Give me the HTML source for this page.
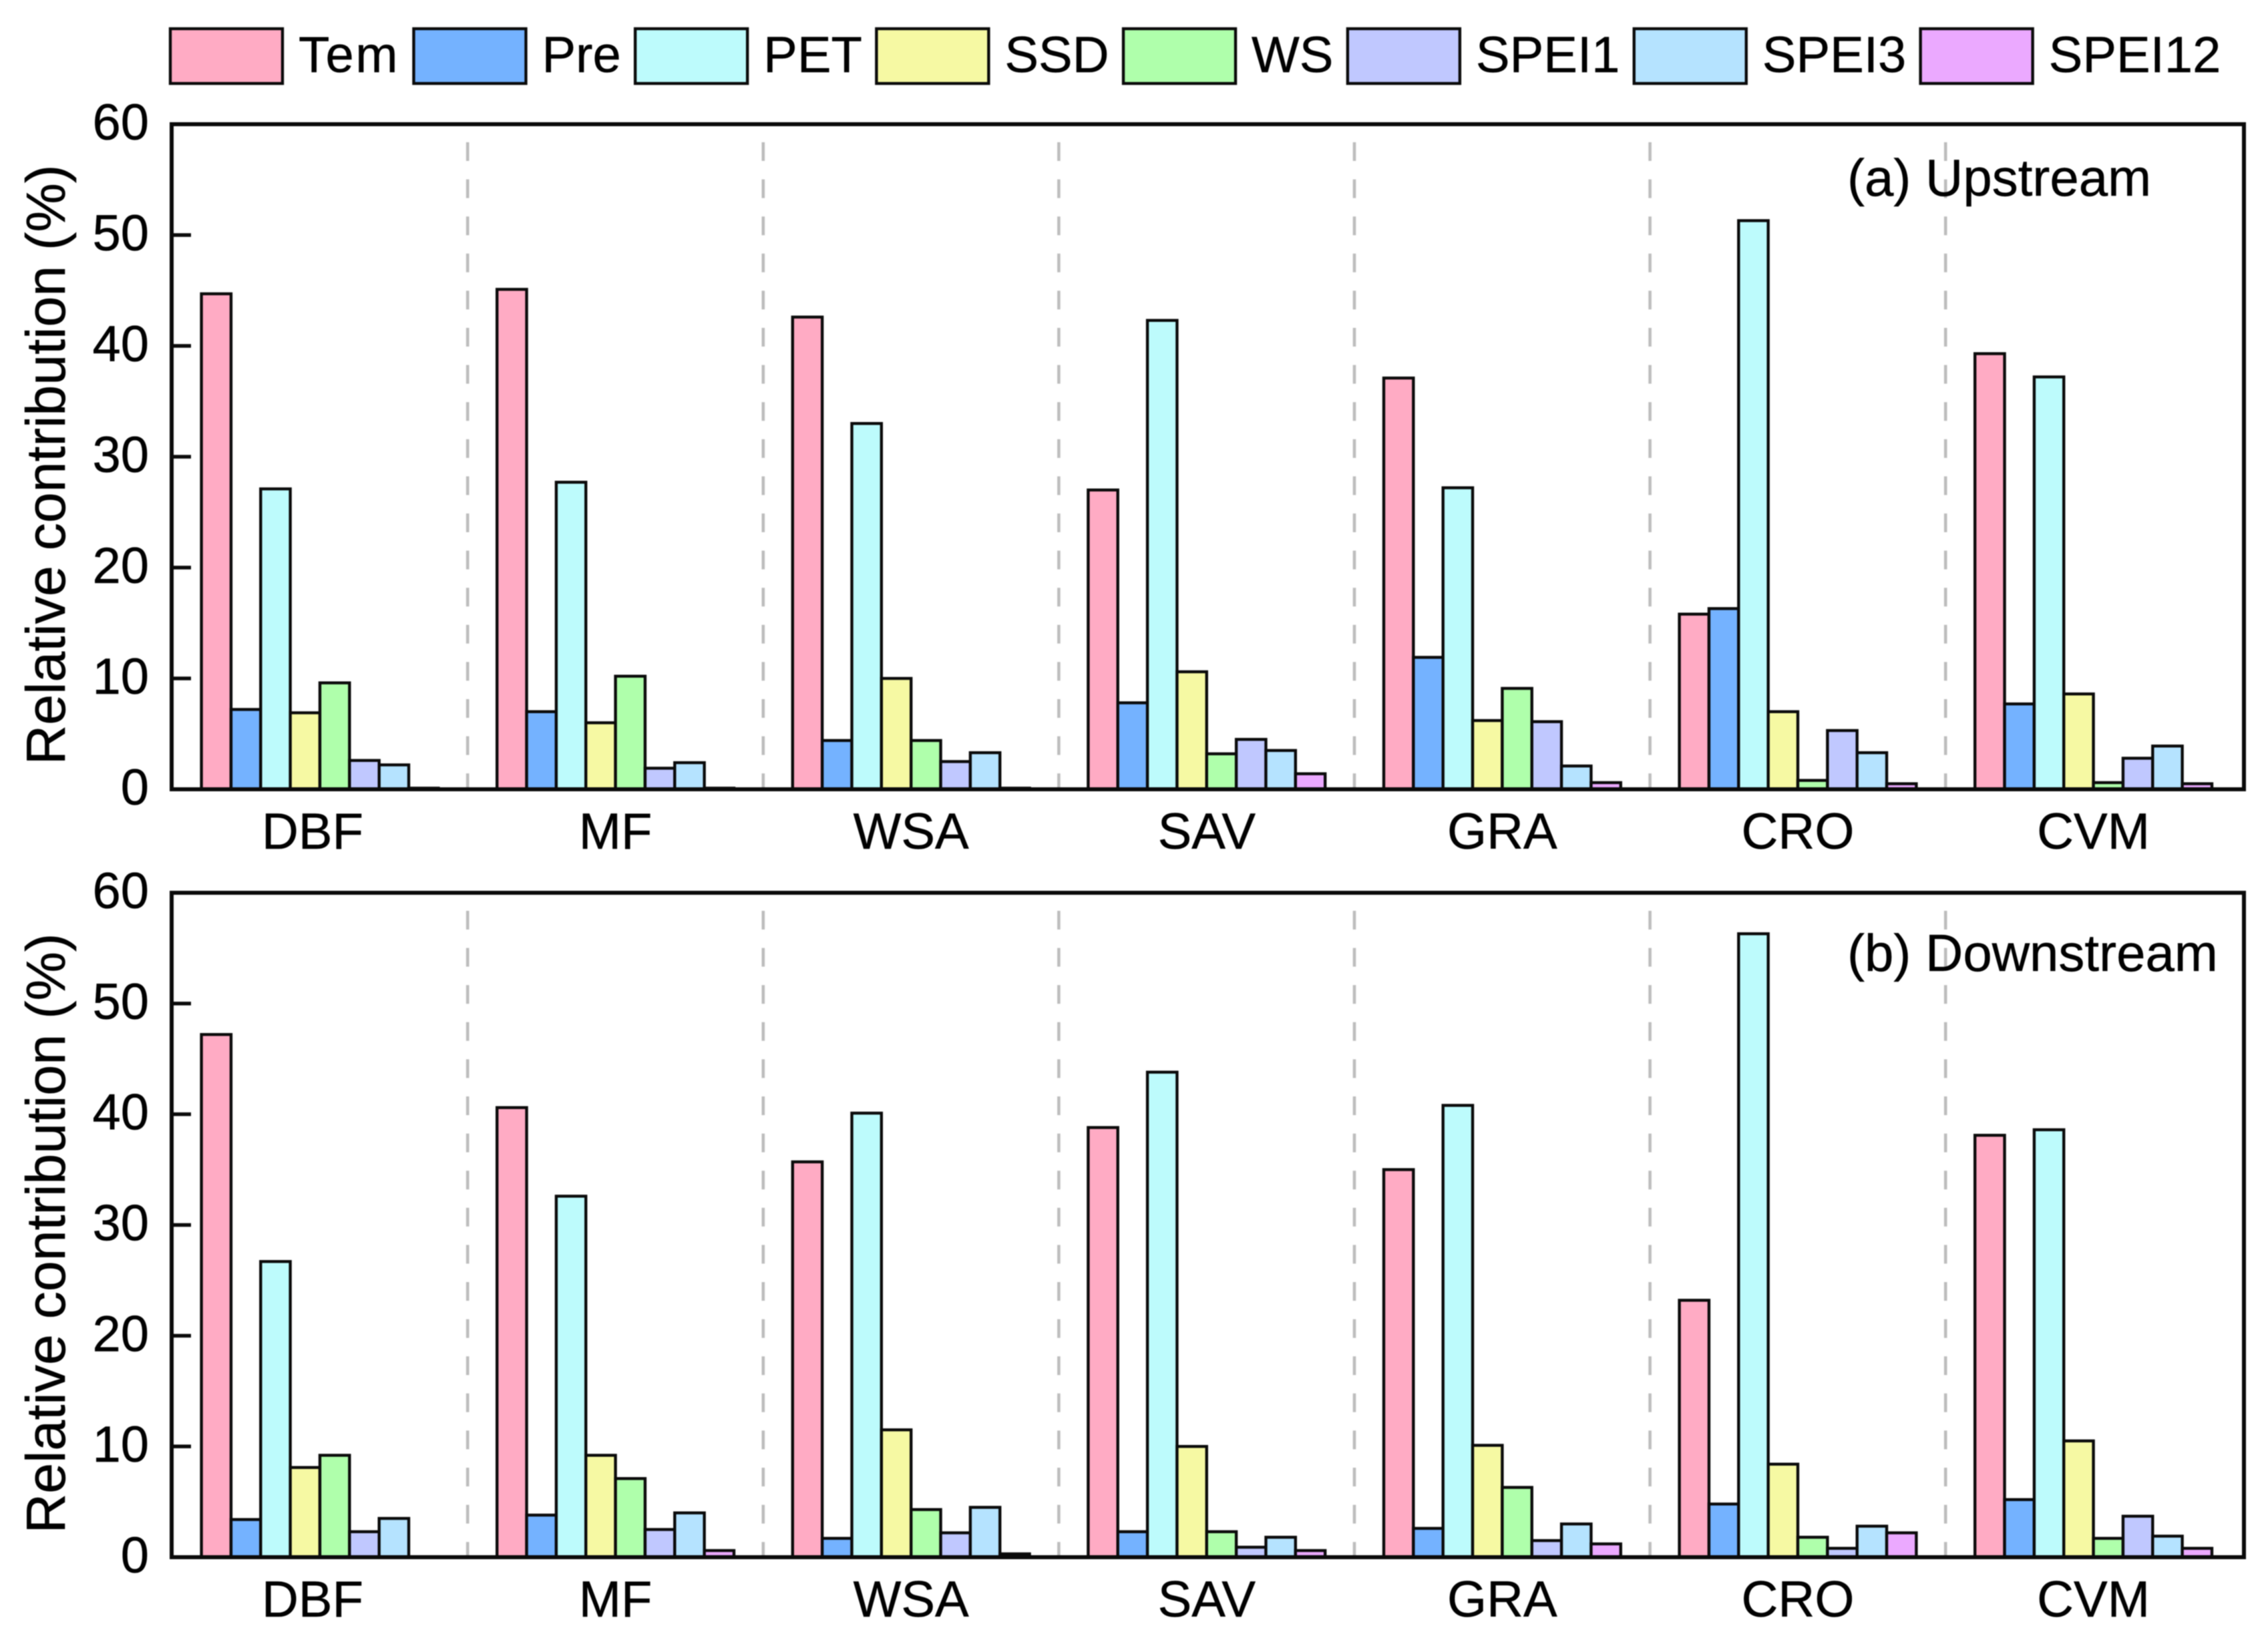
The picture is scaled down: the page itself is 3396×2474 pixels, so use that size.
<!DOCTYPE html>
<html lang="en">
<head>
<meta charset="utf-8">
<title>Relative contribution by vegetation type</title>
<style>
  html, body { margin: 0; padding: 0; background: #fff; width: 3396px; height: 2474px; overflow: hidden; }
  svg { display: block; filter: blur(0.8px); }
  text { font-family: "Liberation Sans", Arial, sans-serif; fill: #000; stroke: #000; stroke-width: 0.5px; }
</style>
</head>
<body>
<svg id="chart" xmlns="http://www.w3.org/2000/svg" width="3396" height="2474" viewBox="0 0 3396 2474"></svg>
<script>
const categories = ['DBF', 'MF', 'WSA', 'SAV', 'GRA', 'CRO', 'CVM'];
const seriesNames = ['Tem', 'Pre', 'PET', 'SSD', 'WS', 'SPEI1', 'SPEI3', 'SPEI12'];
const seriesColors = ['#FFABC4', '#74B2FF', '#BDFBFC', '#F6F9A3', '#AFFFAB', '#C0C8FF', '#B5E3FF', '#EBA9FF'];
const yTicks = [0, 10, 20, 30, 40, 50, 60];

// rows follow categories, columns follow seriesNames
const upstreamDBF = [44.7, 7.2, 27.1, 6.9, 9.6, 2.6, 2.2, 0.1];
const upstreamMF  = [45.1, 7.0, 27.7, 6.0, 10.2, 1.9, 2.4, 0.1];
const upstreamWSA = [42.6, 4.4, 33.0, 10.0, 4.4, 2.5, 3.3, 0.1];
const upstreamSAV = [27.0, 7.8, 42.3, 10.6, 3.2, 4.5, 3.5, 1.4];
const upstreamGRA = [37.1, 11.9, 27.2, 6.2, 9.1, 6.1, 2.1, 0.6];
const upstreamCRO = [15.8, 16.3, 51.3, 7.0, 0.8, 5.3, 3.3, 0.5];
const upstreamCVM = [39.3, 7.7, 37.2, 8.6, 0.6, 2.8, 3.9, 0.5];

const downstreamDBF = [47.2, 3.4, 26.7, 8.1, 9.2, 2.3, 3.5, 0.05];
const downstreamMF  = [40.6, 3.8, 32.6, 9.2, 7.1, 2.5, 4.0, 0.6];
const downstreamWSA = [35.7, 1.7, 40.1, 11.5, 4.3, 2.2, 4.5, 0.3];
const downstreamSAV = [38.8, 2.3, 43.8, 10.0, 2.3, 0.9, 1.8, 0.6];
const downstreamGRA = [35.0, 2.6, 40.8, 10.1, 6.3, 1.5, 3.0, 1.2];
const downstreamCRO = [23.2, 4.8, 56.3, 8.4, 1.8, 0.8, 2.8, 2.2];
const downstreamCVM = [38.1, 5.2, 38.6, 10.5, 1.7, 3.7, 1.9, 0.8];

const upstreamValues = [upstreamDBF, upstreamMF, upstreamWSA, upstreamSAV, upstreamGRA, upstreamCRO, upstreamCVM];
const downstreamValues = [downstreamDBF, downstreamMF, downstreamWSA, downstreamSAV, downstreamGRA, downstreamCRO, downstreamCVM];

const svg = document.getElementById('chart');
const NS = 'http://www.w3.org/2000/svg';

const LEFT = 257, RIGHT = 3360, YMAX = 60;
const FIRST_BAR = 301.6, BAR_W = 44.35, GROUP_STEP = 442.6;

function make(tag, attrs, parent, content) {
  const el = document.createElementNS(NS, tag);
  for (const k in attrs) el.setAttribute(k, attrs[k]);
  if (content !== undefined) el.textContent = content;
  (parent || svg).appendChild(el);
  return el;
}

function slug(s) {
  return s.toLowerCase();
}

function drawPanel(key, top, bottom, values, title, titleX, titleY, yTitleCenter) {
  const y = v => bottom - (v / YMAX) * (bottom - top);
  const x = (g, s) => FIRST_BAR + g * GROUP_STEP + s * BAR_W;

  const panel = make('g', {});
  
  

  // group separators
  for (let g = 0; g < categories.length - 1; g++) {
    const sepX = FIRST_BAR + (g + 1) * GROUP_STEP - 44;
    const sep = make('line', { x1: sepX, x2: sepX, y1: top + 27, y2: bottom - 2, stroke: '#bdbdbd', 'stroke-width': 4.6, 'stroke-dasharray': '28 27.6' }, panel);
    
    
  }

  // bars
  values.forEach((row, g) => {
    row.forEach((v, s) => {
      const bar = make('rect', {
        x: x(g, s),
        y: y(v),
        width: BAR_W,
        height: bottom - y(v),
        fill: seriesColors[s],
        stroke: '#0a0a0a',
        'stroke-width': 4.4
      }, panel);
      
      
    });
  });

  // frame
  const frame = make('rect', { x: LEFT, y: top, width: RIGHT - LEFT, height: bottom - top, fill: 'none', stroke: '#0a0a0a', 'stroke-width': 6 }, panel);
  
  

  // y ticks and labels
  yTicks.forEach(t => {
    const ty = y(t);
    if (t !== 0 && t !== YMAX) {
      const tick = make('line', { x1: LEFT, x2: LEFT + 29, y1: ty, y2: ty, stroke: '#0a0a0a', 'stroke-width': 5.5 }, panel);
      
      
    }
    const label = make('text', { x: 223, y: ty + 23, 'text-anchor': 'end', 'font-size': 76 }, panel, String(t));
    
    
  });

  // x category labels
  categories.forEach((c, g) => {
    const nudge = g === 0 ? -11 : 0;
    const cx = FIRST_BAR + g * GROUP_STEP + 4 * BAR_W + nudge;
    const label = make('text', { x: cx, y: bottom + 89, 'text-anchor': 'middle', 'font-size': 76 }, panel, c);
    
    
  });

  // y axis title
  const yTitle = make('text', { transform: 'translate(97 ' + yTitleCenter + ') rotate(-90)', 'text-anchor': 'middle', 'font-size': 82.5 }, panel, 'Relative contribution (%)');
  
  

  // panel title
  const pTitle = make('text', { x: titleX, y: titleY, 'font-size': 78 }, panel, title);
  
  
}

function drawLegend() {
  const legend = make('g', {});
  
  
  let cursor = 255;
  seriesNames.forEach((name, s) => {
    const swatch = make('rect', { x: cursor, y: 43, width: 168, height: 82, fill: seriesColors[s], stroke: '#0a0a0a', 'stroke-width': 4.4 }, legend);
    
    
    const label = make('text', { x: cursor + 192, y: 108, 'font-size': 76, 'letter-spacing': s === 0 ? 2.5 : 0 }, legend, name);
    
    
    cursor += 169 + 44.4 + label.getComputedTextLength();
  });
}

drawLegend();
drawPanel('upstream', 186, 1182, upstreamValues, '(a) Upstream', 2766, 293, 696);
drawPanel('downstream', 1337, 2332, downstreamValues, '(b) Downstream', 2766, 1454, 1847);
</script>
</body>
</html>
